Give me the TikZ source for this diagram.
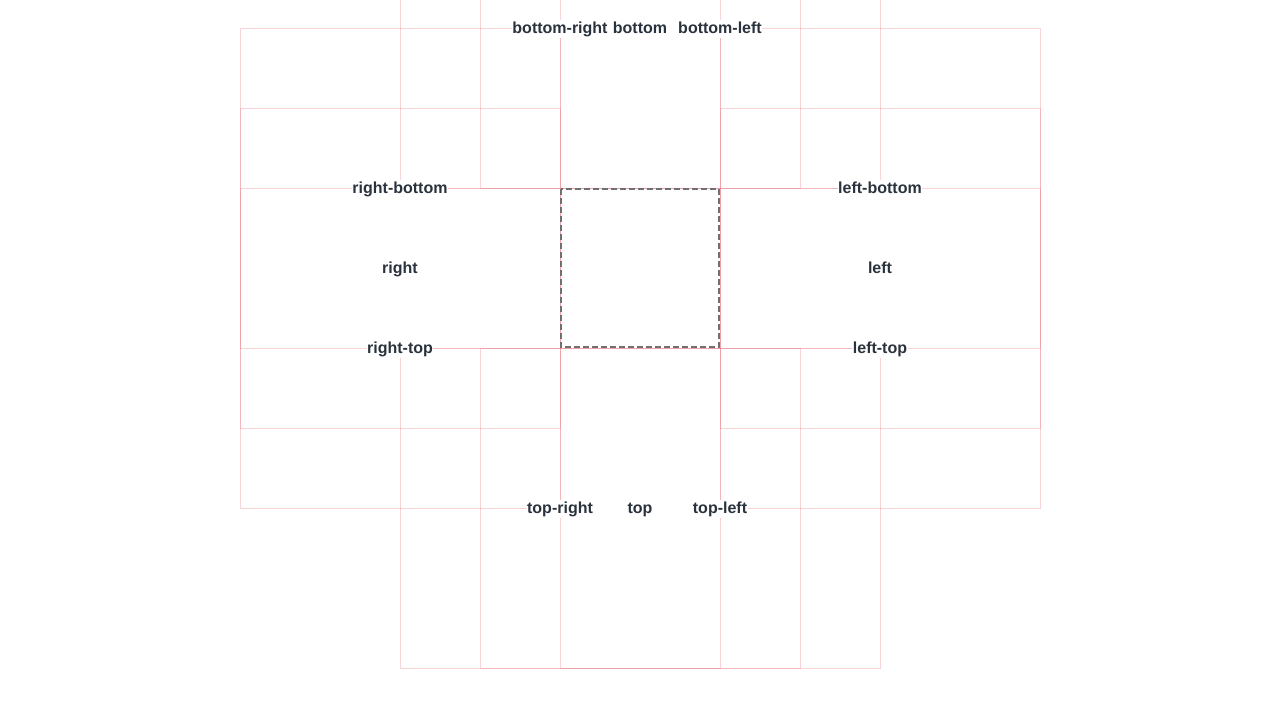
\documentclass[tikz,border=0pt]{standalone}
\usepackage{fontspec}
\setmainfont{Liberation Sans}
\definecolor{boxline}{RGB}{232,120,128}
\definecolor{labeltext}{HTML}{2A333D}
\definecolor{refline}{HTML}{707070}
\tikzset{
  popbox/.style={draw=boxline, draw opacity=0.32, line width=1pt},
  refbox/.style={draw=refline, line width=2.2pt, dash pattern=on 6pt off 3pt},
  placelabel/.style={fill=white, text=labeltext, font=\bfseries\fontsize{16pt}{18pt}\selectfont, inner xsep=0.5pt, inner ysep=1pt, text height=12.6pt, text depth=2.9pt, anchor=center, yshift=-1pt}
}
\begin{document}
\begin{tikzpicture}[x=1pt,y=-1pt]
\useasboundingbox (0,0) rectangle (1280,720);
\clip (0,0) rectangle (1280,720);
% popup rectangles (320 x 320) centred on each label
\foreach \cx/\cy in {400/188, 400/268, 400/348, 880/188, 880/268, 880/348, 560/28, 640/28, 720/28, 560/508, 640/508, 720/508}{
  \draw[popbox] (\cx-160,\cy-160) rectangle (\cx+160,\cy+160);
}
% reference square
\draw[refbox] (561,189) rectangle (719,347);
% labels
\node[placelabel] (bottomright) at (560,28) {bottom-right};
\node[placelabel] (bottom) at (640,28) {bottom};
\node[placelabel] (bottomleft) at (720,28) {bottom-left};
\node[placelabel] (rightbottom) at (400,188) {right-bottom};
\node[placelabel] (right) at (400,268) {right};
\node[placelabel] (righttop) at (400,348) {right-top};
\node[placelabel] (leftbottom) at (880,188) {left-bottom};
\node[placelabel] (left) at (880,268) {left};
\node[placelabel] (lefttop) at (880,348) {left-top};
\node[placelabel] (topright) at (560,508) {top-right};
\node[placelabel] (top) at (640,508) {top};
\node[placelabel] (topleft) at (720,508) {top-left};
\end{tikzpicture}
\end{document}
